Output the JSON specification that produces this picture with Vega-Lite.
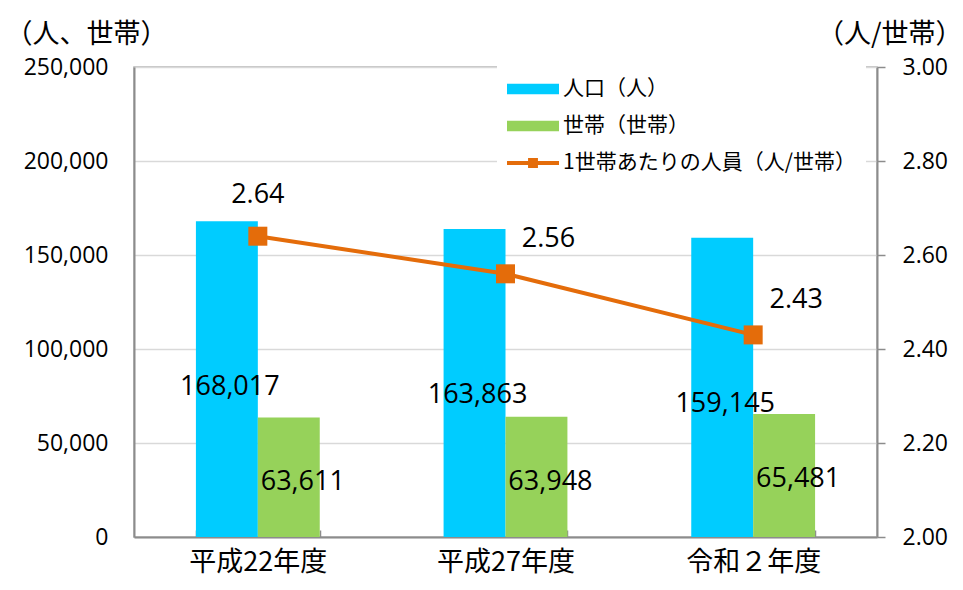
{
  "$schema": "https://vega.github.io/schema/vega-lite/v6.json",
  "width": 743,
  "height": 470,
  "autosize": {"type": "none"},
  "padding": {"left": 134, "top": 67, "right": 86, "bottom": 53},
  "background": "white",
  "config": {
    "view": {"stroke": "#b3b3b3", "strokeWidth": 1.5},
    "font": "Noto Sans CJK JP"
  },
  "datasets": {
    "bars": [
      {"year": "平成22年度", "series": "人口（人）", "value": 168017},
      {"year": "平成22年度", "series": "世帯（世帯）", "value": 63611},
      {"year": "平成27年度", "series": "人口（人）", "value": 163863},
      {"year": "平成27年度", "series": "世帯（世帯）", "value": 63948},
      {"year": "令和２年度", "series": "人口（人）", "value": 159145},
      {"year": "令和２年度", "series": "世帯（世帯）", "value": 65481}
    ],
    "ratio": [
      {"year": "平成22年度", "series": "1世帯あたりの人員（人/世帯）", "ratio": 2.64},
      {"year": "平成27年度", "series": "1世帯あたりの人員（人/世帯）", "ratio": 2.56},
      {"year": "令和２年度", "series": "1世帯あたりの人員（人/世帯）", "ratio": 2.43}
    ]
  },
  "encoding": {
    "x": {
      "field": "year",
      "type": "nominal",
      "sort": ["平成22年度", "平成27年度", "令和２年度"],
      "scale": {"paddingInner": 0.5, "paddingOuter": 0.25},
      "axis": {
        "title": null,
        "labelAngle": 0,
        "labelFont": "Noto Sans CJK JP",
        "labelFontSize": 27,
        "labelColor": "#000000",
        "labelPadding": 19,
        "domainColor": "#8c8c8c",
        "domainWidth": 2,
        "tickColor": "#8c8c8c",
        "tickWidth": 1.5,
        "tickSize": -7,
        "tickBand": "extent",
        "grid": false
      }
    }
  },
  "layer": [
    {
      "data": {"name": "bars"},
      "encoding": {
        "y": {
          "field": "value",
          "type": "quantitative",
          "scale": {"domain": [0, 250000]},
          "axis": {
            "title": "（人、世帯）",
            "titleAngle": 0,
            "titleAlign": "left",
            "titleBaseline": "middle",
            "titleX": -129,
            "titleY": -33,
            "titleFont": "Noto Sans CJK JP",
            "titleFontSize": 27,
            "titleFontWeight": "normal",
            "titleColor": "#000000",
            "labelFont": "Open Sans",
            "labelFontSize": 23,
            "labelColor": "#000000",
            "labelPadding": 26,
            "ticks": false,
            "domainColor": "#8c8c8c",
            "domainWidth": 2,
            "grid": true,
            "gridColor": "#d9d9d9",
            "gridWidth": 1.5,
            "values": [0, 50000, 100000, 150000, 200000, 250000],
            "format": ",.0f"
          }
        },
        "xOffset": {"field": "series", "type": "nominal", "sort": ["人口（人）", "世帯（世帯）"]}
      },
      "layer": [
        {
          "mark": {"type": "bar"},
          "encoding": {
            "color": {
              "field": "series",
              "type": "nominal",
              "scale": {
                "domain": ["人口（人）", "世帯（世帯）", "1世帯あたりの人員（人/世帯）"],
                "range": ["#00CCFF", "#96D25A", "#E46C0A"]
              },
              "legend": {
                "orient": "none",
                "legendX": 363,
                "legendY": -14,
                "title": null,
                "fillColor": "white",
                "padding": 10,
                "labelFont": "Noto Sans CJK JP",
                "labelFontSize": 21,
                "labelColor": "#000000",
                "labelOffset": 4,
                "symbolSize": 2704,
                "symbolStrokeWidth": 0,
                "rowPadding": 1,
                "labelLimit": 400,
                "encode": {
                  "symbols": {
                    "update": {
                      "shape": {"signal": "datum.value === '1世帯あたりの人員（人/世帯）' ? 'M-1,-0.08H1V0.08H-1Z M-0.19,-0.19H0.19V0.19H-0.19Z' : 'M-1,-0.2H1V0.2H-1Z'"}
                    }
                  }
                }
              }
            }
          }
        },
        {
          "transform": [{"filter": "datum.series === '人口（人）'"}],
          "mark": {"type": "text", "dy": 166, "dx": 3, "font": "Open Sans", "fontSize": 27, "color": "#000000"},
          "encoding": {"text": {"field": "value", "type": "quantitative", "format": ","}}
        },
        {
          "transform": [{"filter": "datum.series === '世帯（世帯）'"}],
          "mark": {"type": "text", "dy": 65, "dx": 14, "font": "Open Sans", "fontSize": 27, "color": "#000000"},
          "encoding": {"text": {"field": "value", "type": "quantitative", "format": ","}}
        }
      ]
    },
    {
      "data": {"name": "ratio"},
      "encoding": {
        "y": {
          "field": "ratio",
          "type": "quantitative",
          "scale": {"domain": [2, 3]},
          "axis": {
            "orient": "right",
            "title": "（人/世帯）",
            "titleAngle": 0,
            "titleAlign": "right",
            "titleBaseline": "middle",
            "titleX": 85,
            "titleY": -33,
            "titleFont": "Noto Sans CJK JP",
            "titleFontSize": 27,
            "titleFontWeight": "normal",
            "titleColor": "#000000",
            "labelFont": "Open Sans",
            "labelFontSize": 23,
            "labelColor": "#000000",
            "labelPadding": 17,
            "ticks": true,
            "tickSize": 8,
            "tickColor": "#8c8c8c",
            "tickWidth": 1.5,
            "domainColor": "#8c8c8c",
            "domainWidth": 2,
            "grid": false,
            "values": [2, 2.2, 2.4, 2.6, 2.8, 3],
            "format": ".2f"
          }
        }
      },
      "layer": [
        {"mark": {"type": "line", "color": "#E46C0A", "strokeWidth": 4}},
        {"mark": {"type": "point", "shape": "square", "filled": true, "size": 361, "opacity": 1, "color": "#E46C0A"}},
        {
          "transform": [{"filter": "datum.year === '平成22年度'"}],
          "mark": {"type": "text", "dy": -41, "dx": 0, "font": "Open Sans", "fontSize": 27, "color": "#000000"},
          "encoding": {"text": {"field": "ratio", "type": "quantitative", "format": ".2f"}}
        },
        {
          "transform": [{"filter": "datum.year !== '平成22年度'"}],
          "mark": {"type": "text", "dy": -35, "dx": 43, "font": "Open Sans", "fontSize": 27, "color": "#000000"},
          "encoding": {"text": {"field": "ratio", "type": "quantitative", "format": ".2f"}}
        }
      ]
    }
  ],
  "resolve": {"scale": {"y": "independent"}}
}
